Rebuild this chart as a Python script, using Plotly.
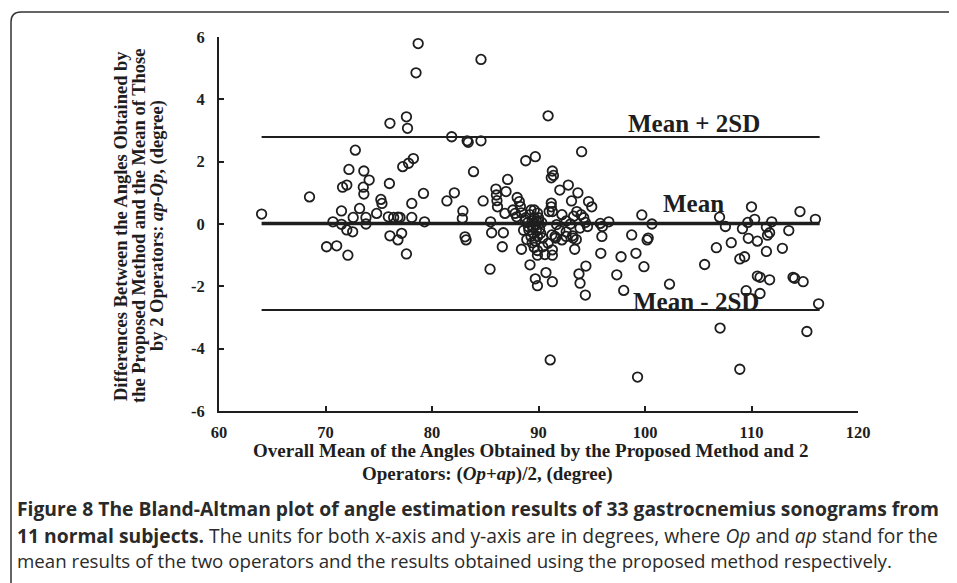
import plotly.graph_objects as go

# ---- data ----
mean_angle = [
    64.0, 68.5, 70.1, 71.05, 72.1, 70.7, 71.5, 71.6, 72.0, 72.2, 72.8, 71.5, 72.0, 72.55, 72.6,
    73.2, 73.6, 74.1, 73.55, 73.6, 73.8, 73.8, 74.8, 75.2, 75.3, 76.0, 75.9, 76.4, 76.8, 77.0,
    76.05, 76.8, 77.15, 77.6, 78.1, 78.1, 79.2, 79.3, 77.25, 77.8, 78.25, 76.05, 77.6, 77.7,
    78.7, 78.5, 84.6,
    81.85, 83.3, 83.4, 84.6, 82.1, 81.4, 83.9, 82.9, 82.85, 83.1, 83.2, 84.8, 85.45, 85.6, 85.5,
    86.0, 86.05, 86.1, 86.15, 87.1, 86.95, 86.85, 86.6, 86.7,
    90.9, 94.05, 88.8, 89.7, 88.0, 88.2, 88.3, 87.6, 87.95, 87.8, 88.4, 88.75, 91.3, 91.4, 91.2,
    92.0, 92.8, 93.1, 93.7, 94.7, 95.0, 91.2, 91.2, 91.0, 91.3, 89.6, 89.9, 90.0, 89.8,
    88.8, 89.0, 89.1, 89.2, 89.3, 89.4, 89.5, 89.5, 89.6, 89.7, 89.7, 89.8, 89.9, 90.0, 90.1,
    90.2, 89.4, 89.6, 89.9, 90.3, 89.3, 88.9, 90.4, 88.6, 89.05,
    88.4, 89.2, 89.7, 89.9, 90.7, 91.3, 89.9, 90.6, 91.3, 90.9, 91.55, 90.4, 91.3, 91.25, 91.6,
    92.2, 92.6, 93.2, 93.4, 93.8, 93.9, 94.45, 94.4, 91.1,
    92.2, 92.6, 93.0, 93.3, 93.6, 94.0, 94.25, 94.4, 94.6, 93.9, 91.7, 92.0, 92.6, 93.25, 93.55,
    95.8, 96.0, 95.95, 96.6, 95.85, 97.75, 97.35, 98.0,
    98.75, 99.15, 99.7, 100.2, 100.3, 100.65, 99.9, 102.3, 99.3,
    105.6, 106.7, 108.1, 107.0, 107.55, 108.9, 109.35, 109.15, 109.65, 110.0, 109.7, 110.3,
    110.55, 111.4, 111.4, 111.9, 111.7, 111.5, 113.5, 112.9, 114.55, 116.0, 110.55, 110.8,
    111.7, 113.9, 114.05, 114.85, 109.5, 110.8, 116.3, 107.05, 115.2, 108.9,
]
difference = [
    0.32, 0.87, -0.73, -0.70, -1.0, 0.07, 0.42, 1.18, 1.25, 1.75, 2.37, -0.01, -0.19, -0.25, 0.21,
    0.5, 1.7, 1.41, 1.18, 0.96, 0.21, 0.0, 0.34, 0.79, 0.66, 1.3, 0.23, 0.21, 0.22, 0.21,
    -0.38, -0.51, -0.3, -0.96, 0.21, 0.66, 0.98, 0.07, 1.84, 1.95, 2.1, 3.23, 3.44, 3.07,
    5.79, 4.85, 5.28,
    2.8, 2.67, 2.62, 2.67, 1.0, 0.74, 1.68, 0.42, 0.18, -0.41, -0.51, 0.74, -1.45, -0.28, 0.07,
    1.12, 0.93, 0.75, 0.55, 1.43, 1.04, 0.34, -0.73, -0.28,
    3.47, 2.32, 2.03, 2.16, 0.85, 0.72, 0.56, 0.45, 0.23, 0.34, 0.36, 0.13, 1.7, 1.56, 1.48,
    1.09, 1.25, 0.74, 1.0, 0.72, 0.55, 0.67, 0.55, 0.4, 0.4, 0.45, 0.35, 0.2, 0.1,
    0.2, 0.05, -0.2, 0.3, -0.4, 0.1, -0.1, -0.3, 0.2, -0.55, 0.0, -0.2, -0.4, 0.1, -0.15,
    -0.3, -0.6, -0.75, -0.85, 0.05, 0.45, -0.5, -0.45, -0.2, -0.09,
    -0.81, -1.31, -1.76, -1.98, -1.56, -1.85, -1.0, -0.98, -1.0, -0.62, -0.4, -0.73, -0.83, -0.35, -0.45,
    -0.51, -0.4, -0.38, -0.81, -1.6, -1.9, -1.35, -2.28, -4.36,
    0.3, 0.1, 0.0, 0.25, 0.4, 0.3, 0.2, 0.05, -0.08, -0.13, -0.02, -0.2, -0.25, -0.45, -0.5,
    0.02, -0.08, -0.4, 0.07, -0.94, -1.05, -1.63, -2.13,
    -0.35, -0.94, 0.29, -0.51, -0.45, 0.0, -1.37, -1.93, -4.91,
    -1.3, -0.76, -0.6, 0.22, -0.08, -1.12, -1.05, -0.15, 0.05, 0.55, -0.46, 0.15,
    -0.55, -0.88, -0.1, 0.07, -0.28, -0.36, -0.21, -0.78, 0.4, 0.15, -1.67, -1.71,
    -1.79, -1.71, -1.74, -1.85, -2.14, -2.23, -2.56, -3.34, -3.45, -4.66,
]
MEAN = 0.02
UPPER = 2.79
LOWER = -2.76

x_ticks = [60, 70, 80, 90, 100, 110, 120]
x_ticktext = ["60", "70", "80", "90", "100", "110", "120"]
y_ticks = [-6, -4, -2, 0, 2, 4, 6]
y_ticktext = ["-6", "-4", "-2", "0", "2", "4", "6"]

# ---- layout helpers (reference pixel -> paper) ----
W, H = 957, 583
OFF = 8                       # page body margin of the rendered html
PL, PT, PW, PH = 219, 37, 639, 374   # plot area in reference pixels


def px(x):
    return (x - PL) / PW


def py(y):
    return (PT + PH - y) / PH


SERIF = "Liberation Serif"
SANS = "Open Sans"
INK = "#1e1e1e"

fig = go.Figure()

fig.add_trace(go.Scatter(
    x=mean_angle, y=difference, mode="markers",
    marker=dict(symbol="circle", size=9.5, color="rgba(0,0,0,0)",
                line=dict(color=INK, width=1.8)),
    showlegend=False, hoverinfo="skip",
))

x_lo, x_hi = min(mean_angle), max(mean_angle) + 0.1
for val, w in [(UPPER, 2), (MEAN, 3.5), (LOWER, 2)]:
    fig.add_trace(go.Scatter(
        x=[x_lo, x_hi], y=[val, val], mode="lines",
        line=dict(color=INK, width=w), showlegend=False, hoverinfo="skip",
    ))

lab_font = dict(family=SERIF, size=25, color=INK, weight="bold")
fig.add_annotation(x=104.6, y=UPPER + 0.45, text="Mean + 2SD", showarrow=False,
                   font=lab_font, xref="x", yref="y")
fig.add_annotation(x=104.6, y=MEAN + 0.65, text="Mean", showarrow=False,
                   font=lab_font, xref="x", yref="y")
fig.add_annotation(x=104.8, y=LOWER + 0.27, text="Mean - 2SD", showarrow=False,
                   font=lab_font, xref="x", yref="y")

title_font = dict(family=SERIF, size=19, color=INK, weight="bold")
fig.add_annotation(x=px(530), y=py(450), xref="paper", yref="paper", showarrow=False,
                   text="Overall Mean of the Angles Obtained by the Proposed Method and 2",
                   font=title_font, xanchor="center", yanchor="middle", borderpad=0)
fig.add_annotation(x=px(487), y=py(474), xref="paper", yref="paper", showarrow=False,
                   text="Operators: (<i>Op</i>+<i>ap</i>)/2, (degree)",
                   font=title_font, xanchor="center", yanchor="middle", borderpad=0)

ylines = [
    (121, "Differences Between the Angles Obtained by"),
    (139, "the Proposed Method and the Mean of Those"),
    (157, "by 2 Operators: <i>ap</i>-<i>Op</i>, (degree)"),
]
for xp, t in ylines:
    fig.add_annotation(x=px(xp), y=py(226), xref="paper", yref="paper", showarrow=False,
                       text=t, textangle=-90,
                       font=dict(family=SERIF, size=18.5, color=INK, weight="bold"),
                       xanchor="center", yanchor="middle")

cap = [
    (508, 19.3, "<b>Figure 8 The Bland-Altman plot of angle estimation results of 33 gastrocnemius sonograms from</b>"),
    (535, 19.3, "<b>11 normal subjects.</b> The units for both x-axis and y-axis are in degrees, where <i>Op</i> and <i>ap</i> stand for the"),
    (560, 18.7, "mean results of the two operators and the results obtained using the proposed method respectively."),
]
for yp, fs, t in cap:
    fig.add_annotation(x=px(15), y=py(yp), xref="paper", yref="paper", showarrow=False,
                       text=t, font=dict(family=SANS, size=fs, color="#2a2a2a"),
                       xanchor="left", yanchor="middle")

# rounded frame around the figure
r = 10
path = (f"M {px(11)} {py(H + 5)} L {px(11)} {py(12 + r)} "
        f"Q {px(11)} {py(12)} {px(11 + r)} {py(12)} L {px(W + 5)} {py(12)}")
fig.add_shape(type="path", path=path, xref="paper", yref="paper",
              line=dict(color="#333333", width=1.5))

axis_common = dict(showline=True, linecolor=INK, linewidth=2, ticks="inside", ticklen=5,
                   tickwidth=2, tickcolor=INK, showgrid=False, zeroline=False,
                   tickfont=dict(family=SERIF, size=16.5, color=INK, weight="bold"))
fig.update_xaxes(range=[60, 120], tickvals=x_ticks, ticktext=x_ticktext,
                 ticklabelstandoff=5, **axis_common)
fig.update_yaxes(range=[-6, 6], tickvals=y_ticks, ticktext=y_ticktext,
                 ticklabelstandoff=9, **axis_common)

ml, mt = PL - OFF, PT - OFF
fig.update_layout(width=W, height=H, autosize=False,
                  margin=dict(l=ml, r=W - ml - PW, t=mt, b=H - mt - PH),
                  paper_bgcolor="white", plot_bgcolor="white")

fig.write_html("out.html")
